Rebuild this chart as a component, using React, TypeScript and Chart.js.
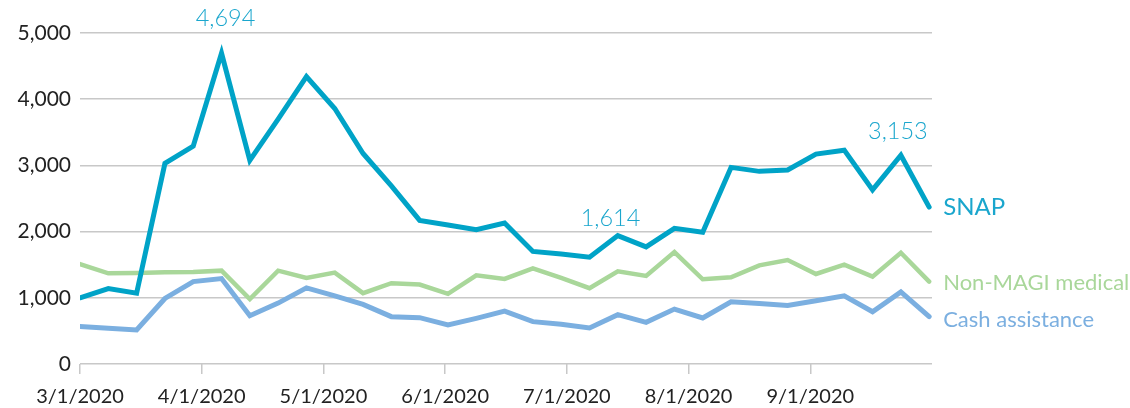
import React, { useEffect, useRef } from "react";
import { Chart, registerables } from "chart.js";

Chart.register(...registerables);

// Weekly observations, 3/1/2020 onwards (index of week)
const weeks = [0, 1, 2, 3, 4, 5, 6, 7, 8, 9, 10, 11, 12, 13, 14, 15, 16, 17, 18, 19, 20, 21, 22, 23, 24, 25, 26, 27, 28, 29, 30];

const seriesNames = ["SNAP", "Non-MAGI medical", "Cash assistance"];

const snap = [1000, 1140, 1070, 3030, 3290, 4694, 3075, 3700, 4340, 3860, 3180, 2690, 2170, 2100, 2030, 2130, 1700, 1660, 1614, 1940, 1770, 2050, 1990, 2970, 2910, 2930, 3170, 3230, 2630, 3153, 2370];
const nonMagi = [1510, 1370, 1375, 1385, 1390, 1410, 980, 1410, 1300, 1380, 1070, 1220, 1200, 1060, 1340, 1285, 1445, 1300, 1145, 1400, 1330, 1690, 1280, 1310, 1490, 1570, 1360, 1500, 1320, 1680, 1245];
const cash = [565, 540, 515, 990, 1245, 1290, 730, 920, 1150, 1030, 900, 715, 700, 590, 690, 800, 640, 600, 545, 745, 630, 830, 695, 940, 915, 885, 955, 1030, 790, 1090, 715];

// Month tick positions (in week units) and their labels
const tickPositions = [0, 4.3, 8.6, 12.9, 17.2, 21.5, 25.8];
const tickLabels = ["3/1/2020", "4/1/2020", "5/1/2020", "6/1/2020", "7/1/2020", "8/1/2020", "9/1/2020"];

const yTicks = [0, 1000, 2000, 3000, 4000, 5000];

// Highlighted SNAP values (week index)
const highlighted = [5, 18, 29];

const COLORS = ["#00A3C7", "#A9D79A", "#7BAFE0"];
const FONT = "Lato, 'Open Sans', sans-serif";

export default function App() {
  const ref = useRef<HTMLCanvasElement | null>(null);

  useEffect(() => {
    if (!ref.current) return;
    const seriesValues = [snap, nonMagi, cash];
    const widths = [5, 4.5, 5];

    const labelOffsets = [
      { dx: 4, dy: -27 },
      { dx: 21, dy: -31 },
      { dx: -3, dy: -16 },
    ];
    const endOffsets = [7.5, 8.5, 10];

    const labelsPlugin = {
      id: "labelsPlugin",
      afterDatasetsDraw(chart: any) {
        const ctx = chart.ctx;
        const xs = chart.scales.x;
        const ys = chart.scales.y;
        ctx.save();
        // value call-outs
        ctx.fillStyle = "#1AA6CD";
        ctx.font = `300 23.5px ${FONT}`;
        ctx.textAlign = "center";
        ctx.textBaseline = "alphabetic";
        highlighted.forEach((idx, k) => {
          const px = xs.getPixelForValue(weeks[idx]);
          const py = ys.getPixelForValue(snap[idx]);
          ctx.fillText(snap[idx].toLocaleString("en-US"), px + labelOffsets[k].dx, py + labelOffsets[k].dy);
        });
        // end-of-line series names
        ctx.textAlign = "left";
        seriesNames.forEach((name, k) => {
          const vals = seriesValues[k];
          const last = vals.length - 1;
          const px = xs.getPixelForValue(weeks[last]);
          const py = ys.getPixelForValue(vals[last]);
          ctx.fillStyle = k === 0 ? "#1AA6CD" : COLORS[k];
          ctx.font = k === 0 ? `400 24px ${FONT}` : `400 22px ${FONT}`;
          ctx.fillText(name, px + 14, py + endOffsets[k]);
        });
        ctx.restore();
      },
    };

    const chart = new Chart(ref.current, {
      type: "line",
      data: {
        datasets: seriesValues.map((vals, k) => ({
          label: seriesNames[k],
          data: vals.map((v, i) => ({ x: weeks[i], y: v })),
          borderColor: COLORS[k],
          backgroundColor: COLORS[k],
          borderWidth: widths[k],
          pointRadius: 0,
          borderCapStyle: "round" as const,
          borderJoinStyle: "miter" as const,
          tension: 0,
          fill: false,
        })),
      },
      options: {
        responsive: false,
        animation: false,
        layout: { padding: { top: 33, right: 198, left: 0, bottom: 0 } },
        plugins: {
          legend: { display: false },
          tooltip: { enabled: false },
          title: { display: false },
        },
        scales: {
          x: {
            type: "linear",
            min: 0,
            max: 30.1,
            afterBuildTicks: (s: any) => {
              s.ticks = tickPositions.map((v) => ({ value: v }));
            },
            afterFit: (s: any) => {
              s.height = 44;
            },
            ticks: {
              autoSkip: false,
              maxRotation: 0,
              minRotation: 0,
              padding: 11,
              color: "#222222",
              font: { family: FONT, size: 20 },
              callback: (_v: any, i: number) => tickLabels[i],
            },
            grid: {
              drawOnChartArea: false,
              drawTicks: true,
              tickLength: 10,
              color: "#c8c8c8",
              lineWidth: 1.5,
            },
            border: { display: false },
          },
          y: {
            min: 0,
            max: 5000,
            afterBuildTicks: (s: any) => {
              s.ticks = yTicks.map((v) => ({ value: v }));
            },
            afterFit: (s: any) => {
              s.width = 80;
            },
            ticks: {
              padding: 9,
              color: "#222222",
              font: { family: FONT, size: 21 },
              callback: (v: any) => Number(v).toLocaleString("en-US"),
            },
            grid: {
              drawTicks: false,
              color: "#c8c8c8",
              lineWidth: 1.5,
            },
            border: { display: false },
          },
        },
      },
      plugins: [labelsPlugin],
    });

    return () => chart.destroy();
  }, []);

  return (
    <div style={{ position: "absolute", left: 0, top: 0, width: 1130, height: 408, background: "#ffffff" }}>
      <canvas ref={ref} width={1130} height={408} style={{ display: "block" }} />
    </div>
  );
}
